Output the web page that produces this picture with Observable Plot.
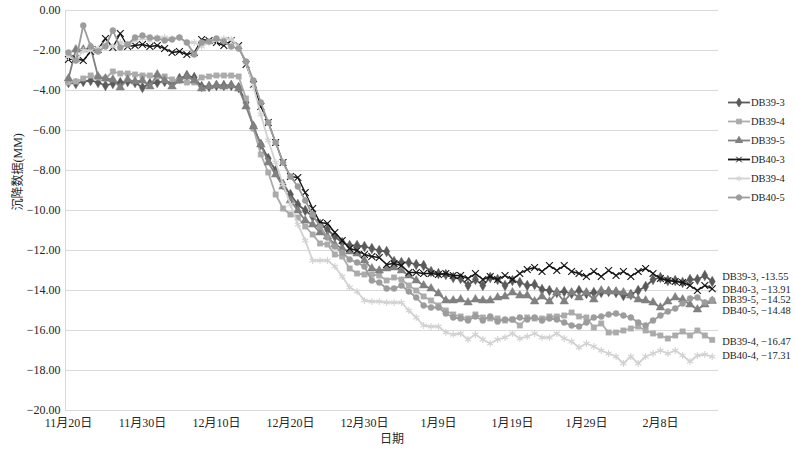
<!DOCTYPE html>
<html><head><meta charset="utf-8">
<script src="https://cdn.jsdelivr.net/npm/d3@7"></script>
<script src="https://cdn.jsdelivr.net/npm/@observablehq/plot@0.6"></script>
<style>
body{margin:0;background:#fff;}
#chart{position:relative;width:795px;height:452px;font-family:"Liberation Serif","Times New Roman","Noto Sans CJK SC",serif;color:#262626;}
#chart svg, #chart svg text{font-family:"Liberation Serif","Times New Roman","Noto Sans CJK SC",serif !important;}
#legend{position:absolute;left:728px;top:93px;font-size:10.5px;}
#legend .row{height:19px;display:flex;align-items:center;}
#legend svg{display:block;margin-right:1px;}
</style></head><body><div id="chart"></div>
<script>
// ---------- data ----------
const startDay = "2019-11-20";
const seriesNames = ["DB39-3","DB39-4","DB39-5","DB40-3","DB40-4","DB40-5"];
const legendLabels = ["DB39-3","DB39-4","DB39-5","DB40-3","DB39-4","DB40-5"];
const endLabels = ["DB39-3, -13.55","DB39-4, \u221216.47","DB39-5, \u221214.52","DB40-3, \u221213.91","DB40-4, \u221217.31","DB40-5, \u221214.48"];
const xTickDays = ["2019-11-20","2019-11-30","2019-12-10","2019-12-20","2019-12-30","2020-01-09","2020-01-19","2020-01-29","2020-02-08"];
const xTickLabels = ["11月20日","11月30日","12月10日","12月20日","12月30日","1月9日","1月19日","1月29日","2月8日"];
const yTicks = [0,-2,-4,-6,-8,-10,-12,-14,-16,-18,-20];

const db39_3 = [-3.6,-3.65,-3.55,-3.5,-3.6,-3.75,-3.65,-3.6,-3.55,-3.6,
 -3.85,-3.65,-3.6,-3.55,-3.6,-3.4,-3.25,-3.35,-3.8,-3.8,
 -3.75,-3.75,-3.75,-3.85,-4.6,-5.8,-6.7,-7.4,-8.0,-8.7,
 -9.2,-9.7,-10.0,-10.3,-10.7,-10.95,-11.3,-11.6,-11.75,-11.75,
 -11.8,-11.9,-12.0,-12.05,-12.55,-12.6,-12.6,-12.7,-12.75,-13.05,
 -13.15,-13.2,-13.35,-13.4,-13.75,-13.45,-13.75,-13.35,-13.45,-13.75,
 -13.5,-13.6,-13.75,-13.7,-13.95,-14.0,-14.1,-14.05,-14.15,-14.0,
 -14.15,-14.1,-14.1,-14.05,-14.1,-14.25,-14.2,-14.0,-13.8,-13.45,
 -13.35,-13.5,-13.5,-13.6,-13.45,-13.45,-13.25,-13.55];
const db39_4 = [-3.6,-3.55,-3.4,-3.25,-3.35,-3.4,-3.05,-3.15,-3.15,-3.2,
 -3.25,-3.25,-3.3,-3.3,-3.45,-3.5,-3.6,-3.6,-3.35,-3.3,
 -3.25,-3.25,-3.25,-3.3,-4.4,-5.9,-7.2,-8.1,-9.2,-9.9,
 -10.2,-10.35,-10.8,-11.2,-11.65,-11.7,-12.2,-12.3,-12.9,-13.15,
 -13.2,-13.2,-13.25,-13.5,-13.35,-13.45,-13.75,-14.0,-14.3,-14.5,
 -14.75,-15.0,-15.2,-15.3,-15.4,-15.2,-15.35,-15.4,-15.4,-15.5,
 -15.45,-15.75,-15.35,-15.4,-15.4,-15.3,-15.3,-15.25,-15.1,-15.3,
 -15.35,-15.85,-15.65,-16.1,-16.1,-16.0,-15.9,-15.8,-16.0,-16.15,
 -16.25,-16.4,-16.25,-16.05,-16.25,-16.0,-16.25,-16.47];
const db39_5 = [-3.4,-1.95,-1.95,-1.85,-3.3,-3.4,-3.45,-3.85,-3.45,-3.55,
 -3.5,-3.8,-3.2,-3.5,-3.8,-3.5,-3.3,-3.5,-3.9,-3.8,
 -3.75,-3.8,-3.75,-3.9,-4.8,-5.8,-6.7,-7.6,-8.2,-8.8,
 -9.5,-10.0,-10.5,-10.7,-11.1,-11.3,-11.7,-11.9,-12.05,-12.15,
 -12.5,-12.9,-13.0,-12.9,-12.85,-13.0,-13.25,-13.5,-13.75,-13.9,
 -14.15,-14.5,-14.5,-14.45,-14.6,-14.45,-14.5,-14.5,-14.35,-14.3,
 -14.1,-14.25,-14.25,-14.55,-14.3,-14.55,-14.1,-14.55,-14.1,-14.35,
 -14.1,-14.45,-14.0,-14.05,-14.05,-14.1,-14.25,-14.45,-14.5,-14.6,
 -14.85,-14.55,-14.35,-14.45,-14.7,-14.95,-14.7,-14.52];
const db40_3 = [-2.45,-2.4,-2.5,-2.05,-1.95,-1.4,-1.85,-1.15,-1.8,-1.75,
 -1.7,-1.8,-1.75,-1.9,-2.1,-2.05,-2.2,-2.1,-1.45,-1.5,
 -1.6,-1.75,-1.5,-1.75,-2.7,-3.7,-4.8,-5.6,-6.6,-7.6,
 -8.3,-8.35,-9.1,-9.9,-10.6,-10.65,-11.1,-11.5,-11.9,-12.0,
 -12.2,-12.3,-12.35,-12.7,-12.65,-12.75,-13.1,-13.1,-13.15,-13.15,
 -13.2,-13.15,-13.25,-13.25,-13.4,-13.15,-13.45,-13.3,-13.45,-13.25,
 -13.45,-13.15,-12.95,-12.85,-13.05,-12.75,-13.0,-12.75,-13.05,-13.15,
 -13.3,-13.05,-13.3,-13.0,-13.25,-13.05,-13.3,-13.05,-12.9,-13.15,
 -13.4,-13.5,-13.55,-13.6,-13.75,-14.0,-13.75,-13.91];
const db40_4 = [-2.3,-2.5,-2.0,-2.0,-1.9,-1.7,-1.8,-1.6,-1.7,-1.5,
 -1.4,-1.5,-1.35,-1.35,-1.4,-1.35,-1.6,-1.6,-1.8,-1.6,
 -1.5,-1.4,-1.45,-1.8,-2.6,-3.8,-5.2,-6.5,-7.6,-8.7,
 -9.7,-10.7,-11.5,-12.5,-12.5,-12.5,-12.8,-13.3,-13.85,-14.05,
 -14.5,-14.55,-14.55,-14.6,-14.6,-14.6,-15.0,-15.35,-15.75,-15.8,
 -15.8,-16.1,-16.2,-16.15,-16.45,-16.2,-16.45,-16.65,-16.45,-16.35,
 -16.15,-16.4,-16.3,-16.15,-16.35,-16.35,-16.15,-16.4,-16.55,-16.85,
 -16.65,-16.8,-17.0,-17.15,-17.3,-17.65,-17.3,-17.65,-17.3,-17.15,
 -17.0,-17.15,-17.0,-17.25,-17.55,-17.25,-17.2,-17.31];
const db40_5 = [-2.1,-2.5,-0.75,-1.8,-2.05,-1.8,-1.0,-1.85,-1.7,-1.35,
 -1.25,-1.35,-1.4,-1.5,-1.45,-1.35,-1.6,-2.2,-1.6,-1.55,
 -1.4,-1.55,-1.8,-1.9,-2.55,-3.5,-4.6,-5.6,-6.6,-7.6,
 -8.3,-8.8,-9.5,-10.2,-10.8,-11.35,-11.8,-12.1,-12.45,-12.6,
 -12.8,-13.5,-13.6,-13.9,-13.9,-13.75,-14.05,-14.35,-14.75,-14.85,
 -14.85,-15.15,-15.35,-15.4,-15.5,-15.3,-15.5,-15.3,-15.55,-15.45,
 -15.45,-15.35,-15.45,-15.35,-15.5,-15.4,-15.45,-15.6,-15.75,-15.8,
 -15.6,-15.35,-15.3,-15.2,-15.15,-15.25,-15.35,-15.6,-15.75,-15.5,
 -15.25,-15.05,-14.9,-14.65,-14.4,-14.35,-14.6,-14.48];
const seriesValues = [db39_3, db39_4, db39_5, db40_3, db40_4, db40_5];

// ---------- styles ----------
const colors  = ["#5b5b5b","#ababab","#808080","#141414","#d2d2d2","#9c9c9c"];
const symbols = ["diamond","square","triangle","times","asterisk","circle"];
const filled  = [true, true, true, false, false, true];
const symR    = [3.2, 3.0, 3.2, 3.2, 3.4, 3.0];
const labelDy = [-5, 2, -1, 1, -1, 11];

const dayMs = 864e5;
const start = new Date(startDay + "T00:00:00Z");
const rows = [];
seriesValues.forEach((vals, s) => vals.forEach((v, i) => rows.push({series: seriesNames[s], s, date: new Date(+start + i*dayMs), value: v})));
const tickDates = xTickDays.map(d => new Date(d + "T00:00:00Z"));
const labelOf = new Map(tickDates.map((d, i) => [+d, xTickLabels[i]]));
const lastIdx = db39_3.length - 1;
const xDomain = [new Date(+start - 0.4*dayMs), new Date(+start + (lastIdx + 0.85)*dayMs)];
const fmtY = v => v === 0 ? "0.00" : "\u2212" + Math.abs(v).toFixed(2);

const marks = [
  Plot.ruleY(yTicks, {stroke: "#d9d9d9", strokeWidth: 1}),
  Plot.ruleX([xDomain[0]], {stroke: "#d9d9d9", strokeWidth: 1})
];
seriesNames.forEach((name, s) => {
  const d = rows.filter(r => r.s === s);
  marks.push(Plot.line(d, {x: "date", y: "value", stroke: colors[s], strokeWidth: s === 3 ? 1.4 : 1.8}));
  marks.push(Plot.dot(d, {x: "date", y: "value", symbol: () => symbols[s], r: symR[s],
    fill: filled[s] ? colors[s] : "none", stroke: colors[s], strokeWidth: filled[s] ? 0.5 : 1.1}));
});
seriesNames.forEach((name, s) => {
  const last = rows.filter(r => r.s === s && r.date.getTime() === +start + lastIdx*dayMs);
  marks.push(Plot.text(last, {x: "date", y: "value", text: () => endLabels[s], textAnchor: "start", dx: 10, dy: labelDy[s], fill: "#262626", fontSize: 10.5}));
});
marks.push(Plot.text(["日期"], {frameAnchor: "bottom", dy: 32, fill: "#262626", fontSize: 12}));
marks.push(Plot.text(["沉降数据(MM)"], {frameAnchor: "left", dx: -47, rotate: -90, fill: "#262626", fontSize: 12}));

const chart = Plot.plot({
  width: 795, height: 452,
  marginLeft: 65, marginRight: 77, marginTop: 10, marginBottom: 42,
  style: {fontSize: "12px", color: "#262626", background: "#fff"},
  x: {type: "utc", domain: xDomain, ticks: tickDates, tickFormat: d => labelOf.get(+d) ?? "", tickSize: 0, tickPadding: 8, label: null},
  y: {domain: [-20, 0], ticks: yTicks, tickFormat: fmtY, tickSize: 0, tickPadding: 5, label: null},
  marks
});
const container = document.getElementById("chart");
container.appendChild(chart);

// legend (HTML overlay on the right)
const legend = document.createElement("div");
legend.id = "legend";
seriesNames.forEach((name, s) => {
  const row = document.createElement("div");
  row.className = "row";
  const sym = {diamond: d3.symbolDiamond, square: d3.symbolSquare, triangle: d3.symbolTriangle, times: d3.symbolTimes, asterisk: d3.symbolAsterisk, circle: d3.symbolCircle}[symbols[s]];
  const path = d3.symbol(sym, 22)();
  row.innerHTML = `<svg width="22" height="19"><line x1="0" x2="22" y1="9.5" y2="9.5" stroke="${colors[s]}" stroke-width="1.8"/>` +
    `<path transform="translate(11,9.5)" d="${path}" fill="${filled[s] ? colors[s] : "none"}" stroke="${colors[s]}" stroke-width="1"/></svg><span>${legendLabels[s]}</span>`;
  legend.appendChild(row);
});
container.appendChild(legend);
</script>
</body></html>
